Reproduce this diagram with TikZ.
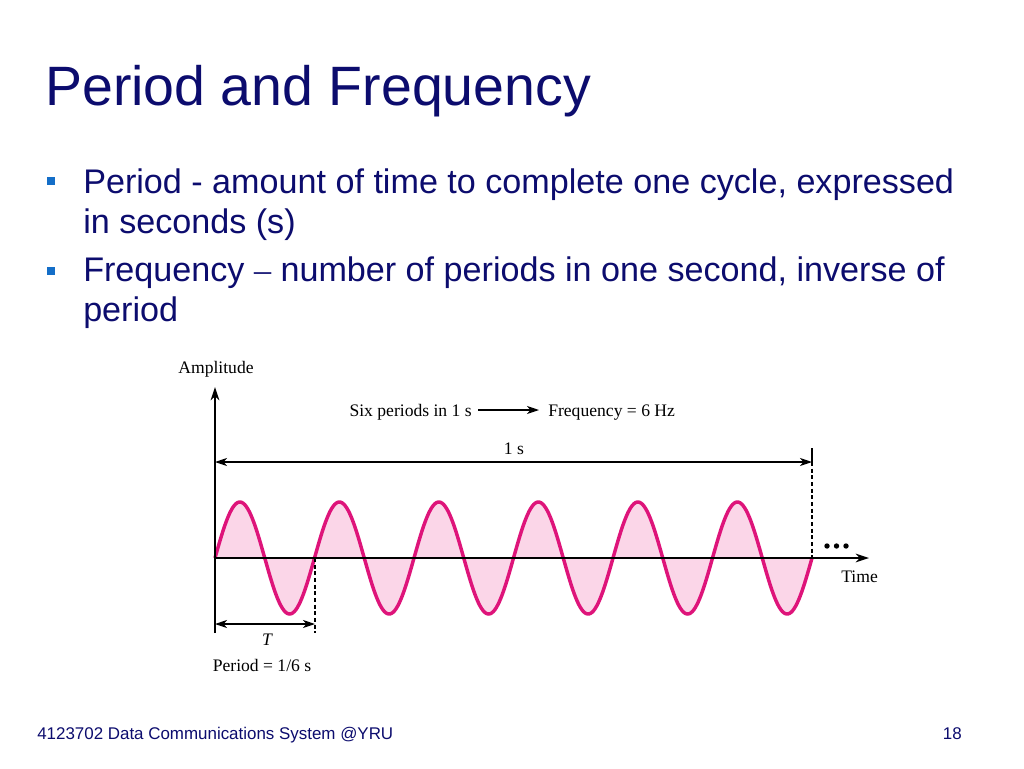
\documentclass[tikz,border=0pt]{standalone}
\usepackage{fontspec}
\setmainfont{Liberation Sans}
\newfontfamily\diagfont{Liberation Serif}
\usetikzlibrary{arrows.meta}
\definecolor{navy}{RGB}{12,12,110}
\definecolor{bulletblue}{RGB}{20,110,200}
\definecolor{wave}{RGB}{222,20,122}
\definecolor{wavefill}{RGB}{251,214,232}
\tikzset{
  title/.style={anchor=base west,inner sep=0pt,text=navy,font=\fontsize{41.6}{49}\selectfont},
  btext/.style={anchor=base west,inner sep=0pt,text=navy,font=\fontsize{25.6}{30}\selectfont},
  bsq/.style={fill=bulletblue,minimum size=6.5pt,inner sep=0pt,draw=none},
  foot/.style={anchor=base west,inner sep=0pt,text=navy,font=\fontsize{12.7}{14}\selectfont},
  lab/.style={anchor=base,inner sep=0pt,font=\diagfont\fontsize{13.2}{15}\selectfont},
  axis/.style={line width=1.1pt,-{Stealth[length=10pt,width=6.5pt,inset=3pt]}},
  dim/.style={line width=0.9pt,{Stealth[length=9pt,width=6pt,inset=2.5pt]}-{Stealth[length=9pt,width=6pt,inset=2.5pt]}},
  guide/.style={line width=0.8pt,dash pattern=on 3pt off 2pt},
  arr/.style={line width=0.9pt,-{Stealth[length=9pt,width=6pt,inset=2.5pt]}},
}
\begin{document}
\begin{tikzpicture}[x=0.75pt,y=-0.75pt]
\useasboundingbox (0,0) rectangle (1024,768);
\fill[white] (0,0) rectangle (1024,768);
% title and bullets
\node[title] (title) at (45,105) {Period and Frequency};
\node[bsq] (b1) at (51,181) {};
\node[btext] (t1) at (83,193) {Period - amount of time to complete one cycle, expressed};
\node[btext] (t2) at (83,233) {in seconds (s)};
\node[bsq] (b2) at (51,271) {};
\node[btext] (t3) at (83,281) {Frequency {\fontspec{Liberation Serif}–} number of periods in one second, inverse of};
\node[btext] (t4) at (83,321) {period};
% footer
\node[foot] (f1) at (37,739) {4123702 Data Communications System @YRU};
\node[foot,anchor=base east] (f2) at (962,739) {18};
% diagram coordinates
\coordinate (O) at (215,558);
\coordinate (ytop) at (215,387);
\coordinate (ybot) at (215,633);
\coordinate (xend) at (869,558);
\coordinate (E) at (812,558);
% wave
\fill[wavefill] plot[domain=0:597,samples=400,smooth] ({215+\x},{558-56*sin(\x/99.5*360)}) -- cycle;
\draw[wave,line width=2.6pt] plot[domain=0:597,samples=400,smooth] ({215+\x},{558-56*sin(\x/99.5*360)});
% axes
\draw[axis] (ybot) -- (ytop);
\draw[axis] (O) -- (xend);
\node[lab] (amp) at (216,373) {Amplitude};
\node[lab,anchor=base west] (time) at (841,582) {Time};
\foreach \i/\xx in {1/827,2/836.5,3/846} \fill (\xx,546) circle (2.7);
% top annotation
\node[lab,anchor=base east] (six) at (472,416) {Six periods in 1 s};
\node[lab,anchor=base west] (freq) at (548,416) {Frequency = 6 Hz};
\coordinate (a1) at (478,410);
\coordinate (a2) at (539,410);
\draw[arr] (a1) -- (a2);
% 1 s dimension
\coordinate (s1) at (215,462);
\coordinate (s2) at (812,462);
\coordinate (s2top) at (812,448);
\draw[line width=0.8pt] (s2top) -- (s2);
\draw[guide] (s2) -- (E);
\draw[dim] (s1) -- (s2);
\node[lab] (ones) at (514,454) {1 s};
% T dimension
\coordinate (p1) at (315,558);
\coordinate (p2) at (315,633);
\draw[guide] (p1) -- (p2);
\coordinate (q1) at (215,624);
\coordinate (q2) at (315,624);
\draw[dim] (q1) -- (q2);
\node[lab] (T) at (267,645) {\itshape T};
\node[lab] (per) at (262,671) {Period = 1/6 s};
\end{tikzpicture}
\end{document}
